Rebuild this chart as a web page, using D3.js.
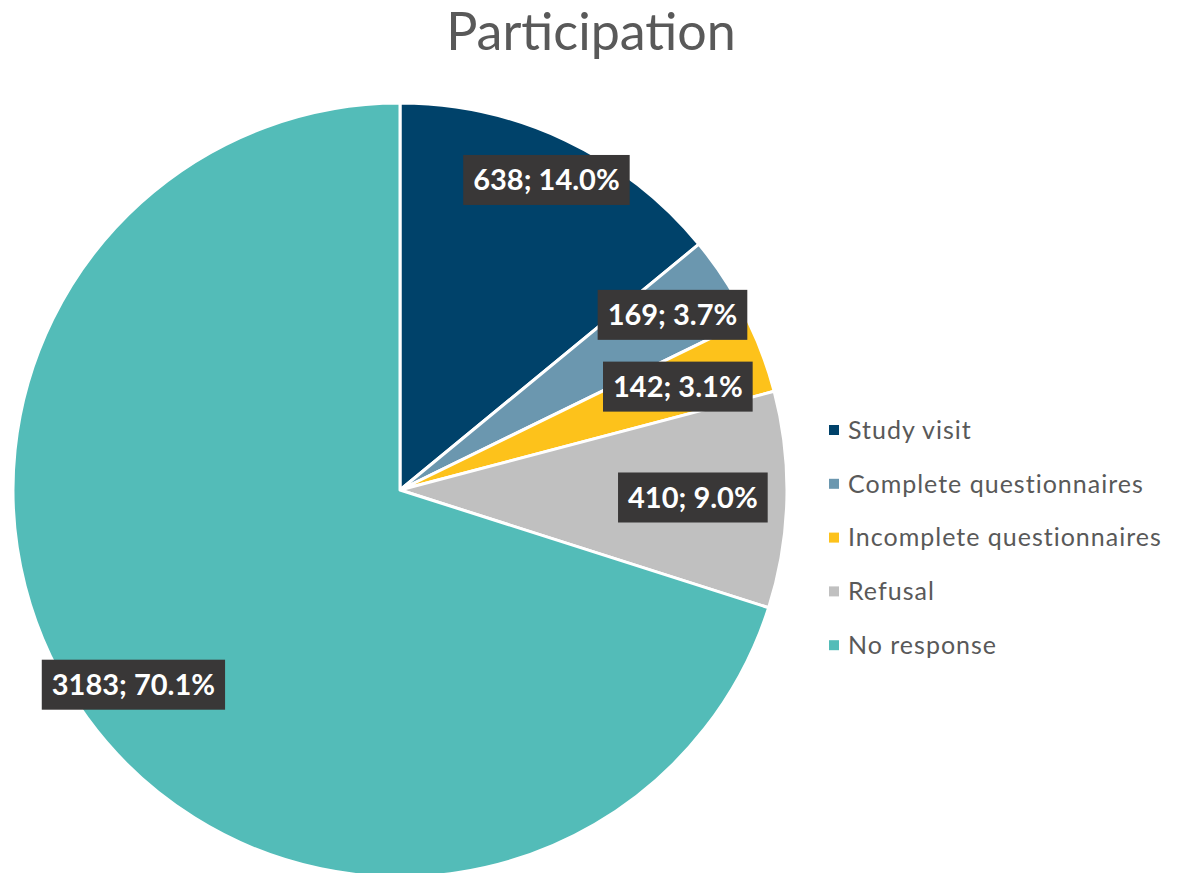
<!DOCTYPE html>
<html><head><meta charset="utf-8">
<script src="https://cdn.jsdelivr.net/npm/d3@7"></script>
<style>body{margin:0;background:#fff}svg{display:block}</style>
</head><body>
<svg id="c" width="1178" height="873"></svg>
<script>
const categories = ["Study visit","Complete questionnaires","Incomplete questionnaires","Refusal","No response"];
const values = [638,169,142,410,3183];
const percents = ["14.0%","3.7%","3.1%","9.0%","70.1%"];
const colors = ["#00426a","#6b97af","#fdc21b","#c0c0c0","#53bcb8"];
const labelRadiusFrac = [0.886,0.837,0.766,0.757,0.853];

const svg = d3.select("#c");
const cx = 400, cy = 490, R = 387;

svg.append("text").attr("x",591).attr("y",50).attr("text-anchor","middle")
  .attr("font-family","Lato").attr("font-size",52).attr("fill","#595959").text("Participation");

const pie = d3.pie().sort(null).value(d=>d)(values);
const arc = d3.arc().innerRadius(0).outerRadius(R);
const g = svg.append("g").attr("transform",`translate(${cx},${cy})`);
g.selectAll("path").data(pie).join("path")
  .attr("d",arc).attr("fill",(d,i)=>colors[i])
  .attr("stroke","#fff").attr("stroke-width",3).attr("stroke-linejoin","round");

const lg = g.selectAll("g.lab").data(pie).join("g").attr("class","lab")
  .attr("transform",(d,i)=>{
    const a=(d.startAngle+d.endAngle)/2, r=R*labelRadiusFrac[i];
    return `translate(${r*Math.sin(a)},${-r*Math.cos(a)})`;
  });
const rects = lg.append("rect").attr("fill","#393737");
const txts = lg.append("text").attr("text-anchor","middle").attr("dy","0.36em")
  .attr("font-family","Lato").attr("font-weight","bold").attr("font-size",29).attr("fill","#fff")
  .text((d,i)=>`${values[i]}; ${percents[i]}`);
txts.each(function(d,i){
  const b=this.getBBox();
  d3.select(rects.nodes()[i]).attr("x",b.x-10).attr("y",-25).attr("width",b.width+20).attr("height",50);
});

const leg = svg.append("g").attr("transform","translate(829,430)");
const li = leg.selectAll("g").data(categories).join("g").attr("transform",(d,i)=>`translate(0,${i*53.8})`);
li.append("rect").attr("x",0).attr("y",-5).attr("width",10).attr("height",10).attr("fill",(d,i)=>colors[i]);
li.append("text").attr("x",19).attr("dy","0.35em").attr("font-family","Lato").attr("font-size",25)
  .attr("letter-spacing",1).attr("fill","#595959").text(d=>d);
</script>
</body></html>
